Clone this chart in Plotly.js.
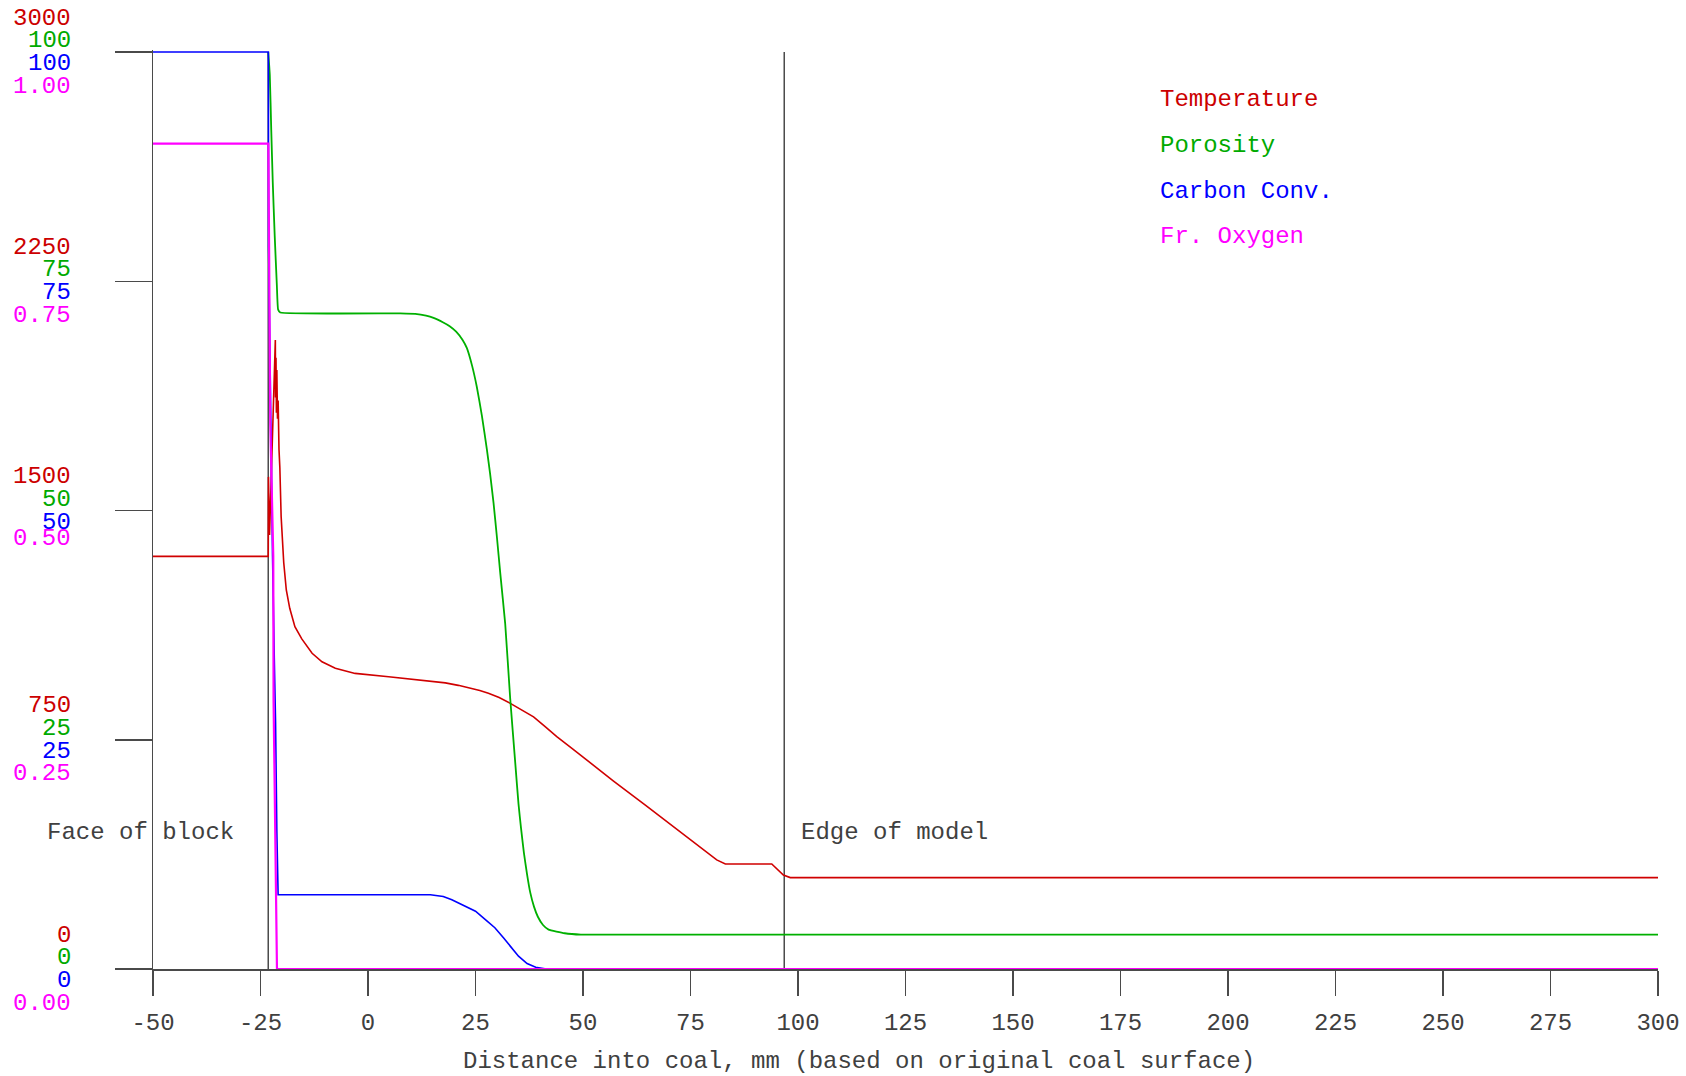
<!DOCTYPE html>
<html>
<head>
<meta charset="utf-8">
<script src="https://cdn.plot.ly/plotly-3.0.1.min.js"></script>
<style>
  html, body { margin: 0; padding: 0; background: #ffffff; }
  #chart { width: 1686px; height: 1076px; }
</style>
</head>
<body>
<div id="chart"></div>
<script>
// ---------------- DATA ----------------
const seriesNames = ['Temperature', 'Porosity', 'Carbon Conv.', 'Fr. Oxygen'];

// Temperature (K) vs distance (mm)
const tempX = [-50, -23.2, -23.15, -22.9, -21.55, -21.5, -21.4, -21.3, -21.2, -21.05, -20.9, -20.7, -20.5, -20.2, -19.6, -19.0, -18.2, -17.0, -15.4, -13.0, -10.7, -7.6, -3.0, 4.8, 12.5, 18.0, 21.0, 24.2, 26.0, 28.0, 30.5, 33.1, 35.5, 38.5, 41.2, 43.9, 47.5, 50.9, 57.1, 64.5, 70.0, 75.7, 81.1, 83.1, 93.9, 96.6, 98.2, 300];
const tempY = [1350, 1350, 1610, 1420, 2058, 1870, 2000, 1820, 1960, 1800, 1860, 1700, 1640, 1480, 1330, 1240, 1180, 1120, 1080, 1033, 1005, 984, 967, 956, 945, 936, 928, 918, 911, 902, 888, 869, 850, 825, 793, 760, 721, 683, 615, 536, 477, 415, 357, 343.5, 343.5, 307.5, 299, 299];

// Porosity (%)
const porosityX = [-23.2, -22.84, -22.5, -22.15, -21.7, -21.2, -20.9, -20.4, 7.5, 11.0, 13.5, 15.24, 17.5, 19.0, 20.5, 22.0, 23.0, 24.2, 25.3, 26.5, 27.66, 28.4, 29.2, 30.0, 30.75, 31.9, 33.07, 34.24, 35.0, 35.6, 36.25, 37.0, 37.75, 38.6, 39.5, 40.7, 42.0, 45.75, 49.5, 300];
const porosityY = [100, 97.5, 91.5, 85.8, 80.0, 74.6, 71.9, 71.6, 71.5, 71.45, 71.25, 71.0, 70.5, 70.1, 69.5, 68.6, 67.7, 65.8, 63.5, 60.3, 56.6, 54.0, 50.8, 47.0, 43.2, 37.7, 29.5, 22.5, 18.0, 15.3, 12.7, 10.3, 8.3, 6.8, 5.7, 4.8, 4.3, 3.9, 3.75, 3.75];

// Carbon conversion (%)
const carbonX = [-50, -23.17, -23.12, -22.7, -22.2, -21.8, -21.5, -21.2, -20.9, 14.5, 17.5, 19.5, 22.0, 25.0, 27.5, 29.5, 31.5, 33.2, 35.0, 37.0, 39.0, 41.5, 300];
const carbonY = [100, 100, 78.7, 60, 45, 34, 27, 15, 8.1, 8.1, 7.9, 7.55, 7.0, 6.3, 5.3, 4.5, 3.4, 2.4, 1.4, 0.6, 0.2, 0.0, 0.0];

// Fraction oxygen
const oxygenX = [-50, -23.17, -22.73, -22.03, -21.96, -21.17, 300];
const oxygenY = [0.90, 0.90, 0.595, 0.45, 0.293, 0.0, 0.0];

// Axis ticks
const xTickVals = [-50, -25, 0, 25, 50, 75, 100, 125, 150, 175, 200, 225, 250, 275, 300];
const xTickText = ['-50', '-25', '0', '25', '50', '75', '100', '125', '150', '175', '200', '225', '250', '275', '300'];
const tempTicks = [0, 750, 1500, 2250, 3000];
const tempTickText = ['0', '750', '1500', '2250', '3000'];
const porosityTicks = [0, 25, 50, 75, 100];
const porosityTickText = ['0', '25', '50', '75', '100'];
const carbonTicks = [0, 25, 50, 75, 100];
const carbonTickText = ['0', '25', '50', '75', '100'];
const oxygenTicks = [0, 0.25, 0.5, 0.75, 1.0];
const oxygenTickText = ['0.00', '0.25', '0.50', '0.75', '1.00'];

// Reference lines
const refLineX = [-23.2, 96.8];
const refLineText = ['Face of block', 'Edge of model'];

const xTitleText = 'Distance into coal, mm (based on original coal surface)';

// ---------------- STYLE / LAYOUT ----------------
const FONT = '"Liberation Mono", "Courier New", Courier, monospace';
const colors = ['#d00000', '#00b000', '#0000ff', '#ff00ff'];
const labelColors = ['#cc0000', '#00aa00', '#0000ff', '#ff00ff'];
const axisGrey = '#4a4a4a';
const textGrey = '#404040';

const W = 1686, H = 1076;
const plotL = 153, plotR = 1658, plotTop = 50, plotBottom = 969; // y=max maps to 52
const plotW = plotR - plotL, plotH = plotBottom - plotTop;
const padFrac = 2 / 917; // 2px headroom above the top value
const px = X => (X - plotL) / plotW;
const py = Y => (plotBottom - Y) / plotH;

const axisRanges = [3000, 100, 100, 1].map(m => [0, m * (1 + padFrac)]);
const axisRefs = ['y', 'y2', 'y3', 'y4'];

const traces = [
  {x: tempX, y: tempY, yaxis: 'y', line: {color: colors[0], width: 1.6}},
  {x: porosityX, y: porosityY, yaxis: 'y2', line: {color: colors[1], width: 1.8, shape: 'spline', smoothing: 0.4}},
  {x: carbonX, y: carbonY, yaxis: 'y3', line: {color: colors[2], width: 1.6}},
  {x: oxygenX, y: oxygenY, yaxis: 'y4', line: {color: colors[3], width: 2.2}}
].map((t, i) => Object.assign(t, {type: 'scatter', mode: 'lines', name: seriesNames[i], hoverinfo: 'skip', showlegend: false}));

// y tick labels (stacked: 4 series per tick)
const tickSets = [
  [tempTicks, tempTickText],
  [porosityTicks, porosityTickText],
  [carbonTicks, carbonTickText],
  [oxygenTicks, oxygenTickText]
];
const stackOffsets = [34, 11.5, -11.5, -34]; // px relative to tick (positive = up)
const annotations = [];
tickSets.forEach(([vals, texts], i) => {
  vals.forEach((v, j) => {
    let shift = stackOffsets[i];
    if (i === 3 && j === 2) shift = -27.5;   // "0.50" sits a little higher in the original
    annotations.push({
      xref: 'paper', x: px(73), xanchor: 'right',
      yref: axisRefs[i], y: v, yanchor: 'middle', yshift: shift,
      text: texts[j], showarrow: false,
      font: {family: FONT, size: 24, color: labelColors[i]}
    });
  });
});

// Legend (coloured text)
seriesNames.forEach((n, i) => {
  annotations.push({
    xref: 'paper', x: px(1158), xanchor: 'left',
    yref: 'paper', y: py(100 + i * 45.5), yanchor: 'middle',
    text: n, showarrow: false,
    font: {family: FONT, size: 24, color: labelColors[i]}
  });
});

// Reference line labels
annotations.push({
  xref: 'x', x: refLineX[0], xanchor: 'right', xshift: -32,
  yref: 'paper', y: py(832), yanchor: 'middle',
  text: refLineText[0], showarrow: false,
  font: {family: FONT, size: 24, color: textGrey}
});
annotations.push({
  xref: 'x', x: refLineX[1], xanchor: 'left', xshift: 15,
  yref: 'paper', y: py(832), yanchor: 'middle',
  text: refLineText[1], showarrow: false,
  font: {family: FONT, size: 24, color: textGrey}
});

// X axis title
annotations.push({
  xref: 'paper', x: px(859), xanchor: 'center',
  yref: 'paper', y: py(1061), yanchor: 'middle',
  text: xTitleText, showarrow: false,
  font: {family: FONT, size: 24, color: textGrey}
});

const shapes = refLineX.map(xv => ({
  type: 'line', xref: 'x', yref: 'y', x0: xv, x1: xv, y0: 0, y1: 3000,
  line: {color: axisGrey, width: 1.5}, layer: 'below'
}));

const hiddenAxis = (r) => ({
  range: r, overlaying: 'y', visible: false, showgrid: false, zeroline: false, fixedrange: true
});

const layout = {
  width: W, height: H,
  margin: {l: plotL, r: W - plotR, t: plotTop, b: H - plotBottom, pad: 0},
  paper_bgcolor: '#ffffff',
  plot_bgcolor: '#ffffff',
  showlegend: false,
  font: {family: FONT, size: 24, color: textGrey},
  xaxis: {
    range: [-50, 300], tickmode: 'array', tickvals: xTickVals, ticktext: xTickText,
    ticks: 'outside', ticklen: 25, tickwidth: 1.5, tickcolor: axisGrey,
    showline: true, linecolor: axisGrey, linewidth: 1.5, layer: 'below traces',
    showgrid: false, zeroline: false, fixedrange: true,
    tickfont: {family: FONT, size: 24, color: textGrey},
    ticklabelstandoff: 6
  },
  yaxis: {
    range: axisRanges[0], tickmode: 'array', tickvals: tempTicks,
    ticks: 'outside', ticklen: 37, tickwidth: 1.5, tickcolor: axisGrey,
    showticklabels: false, showline: true, linecolor: axisGrey, linewidth: 1.5,
    layer: 'below traces', showgrid: false, zeroline: false, fixedrange: true
  },
  yaxis2: hiddenAxis(axisRanges[1]),
  yaxis3: hiddenAxis(axisRanges[2]),
  yaxis4: hiddenAxis(axisRanges[3]),
  annotations: annotations,
  shapes: shapes
};

Plotly.newPlot('chart', traces, layout, {staticPlot: true, displayModeBar: false});
</script>
</body>
</html>
